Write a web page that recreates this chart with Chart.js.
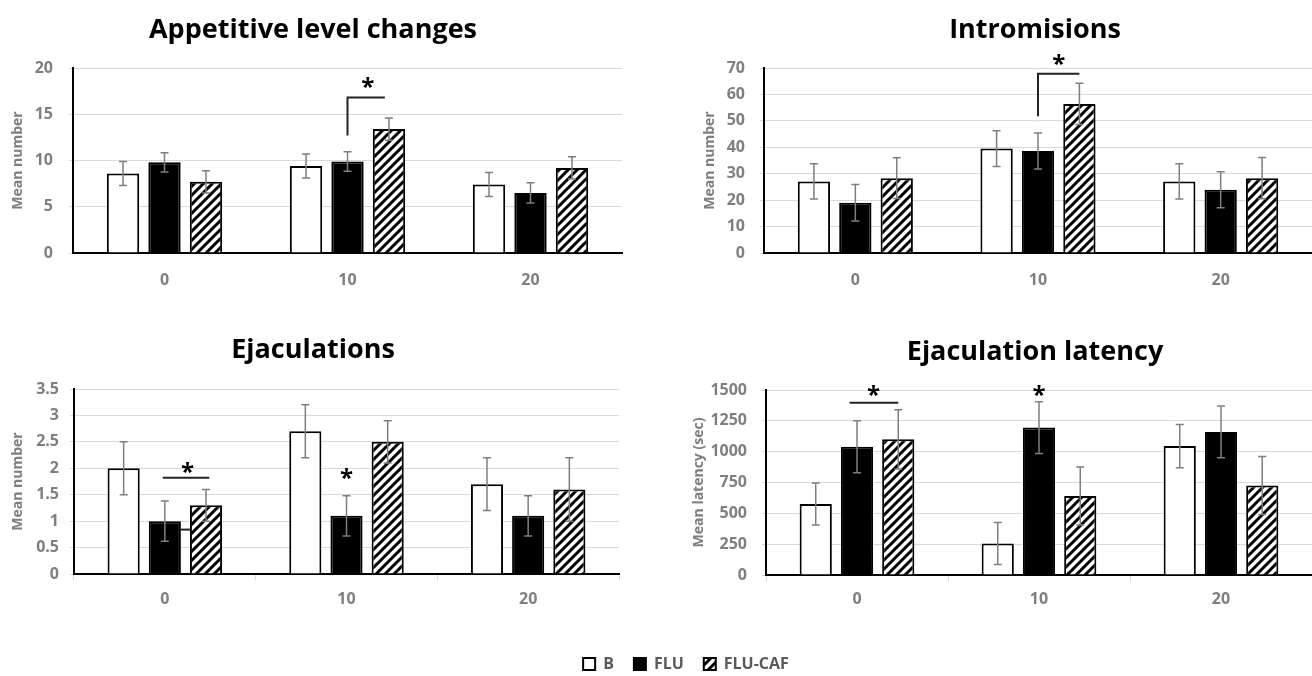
<!DOCTYPE html>
<html>
<head>
<meta charset="utf-8">
<script src="https://cdn.jsdelivr.net/npm/chart.js@4"></script>
<style>
  body { margin: 0; width: 1312px; height: 676px; background: #fff; position: relative; overflow: hidden; }
  canvas { position: absolute; }
</style>
</head>
<body>
<canvas id="appetitive" width="656" height="300" style="left:0;top:0"></canvas>
<canvas id="intromisions" width="656" height="300" style="left:656px;top:0"></canvas>
<canvas id="ejaculations" width="656" height="300" style="left:0;top:320px"></canvas>
<canvas id="latency" width="656" height="300" style="left:656px;top:320px"></canvas>
<canvas id="legend" width="320" height="120" style="left:526px;top:636px"></canvas>
<script>
// categories (dose) and groups
const doses = ['0', '10', '20'];
const groupNames = ['B', 'FLU', 'FLU-CAF'];

// Appetitive level changes
const appetitiveB = [8.6, 9.4, 7.4];
const appetitiveFLU = [9.8, 9.9, 6.5];
const appetitiveCAF = [7.7, 13.4, 9.2];
const appetitiveErrB = [1.3, 1.3, 1.3];
const appetitiveErrFLU = [1.05, 1.05, 1.1];
const appetitiveErrCAF = [1.2, 1.2, 1.2];
const appetitiveTicks = [0, 5, 10, 15, 20];

// Intromisions
const intromB = [27.1, 39.5, 27.1];
const intromFLU = [19.0, 38.6, 23.9];
const intromCAF = [28.3, 56.4, 28.3];
const intromErrB = [6.7, 6.8, 6.7];
const intromErrFLU = [6.9, 6.8, 6.8];
const intromErrCAF = [7.7, 7.8, 7.8];
const intromTicks = [0, 10, 20, 30, 40, 50, 60, 70];

// Ejaculations
const ejacB = [2.0, 2.7, 1.7];
const ejacFLU = [1.0, 1.1, 1.1];
const ejacCAF = [1.3, 2.5, 1.6];
const ejacErrB = [0.5, 0.5, 0.5];
const ejacErrFLU = [0.38, 0.38, 0.38];
const ejacErrCAF = [0.3, 0.4, 0.6];
const ejacTicks = [0, 0.5, 1, 1.5, 2, 2.5, 3, 3.5];

// Ejaculation latency (sec)
const latB = [575, 255, 1045];
const latFLU = [1040, 1195, 1160];
const latCAF = [1100, 640, 725];
const latErrB = [170, 170, 175];
const latErrFLU = [210, 210, 210];
const latErrCAF = [240, 235, 235];
const latTicks = [0, 250, 500, 750, 1000, 1250, 1500];

const FONT = '"Open Sans", Lato, sans-serif';
Chart.defaults.font.family = FONT;
Chart.defaults.font.weight = 'bold';
Chart.defaults.font.size = 16;
Chart.defaults.color = '#7f7f7f';

// diagonal hatch used for FLU-CAF
function makeHatch() {
    const c = document.createElement('canvas');
    c.width = 9; c.height = 9;
    const g = c.getContext('2d');
    g.fillStyle = '#fff';
    g.fillRect(0, 0, 9, 9);
    g.strokeStyle = '#000';
    g.lineWidth = 3;
    g.beginPath();
    g.moveTo(-1, 10); g.lineTo(10, -1);
    g.moveTo(-1, 1); g.lineTo(1, -1);
    g.moveTo(8, 10); g.lineTo(10, 8);
    g.stroke();
    return g.createPattern(c, 'repeat');
}
const hatch = makeHatch();

// error bars from dataset.err
const errorBars = {
    id: 'errorBars',
    afterDatasetsDraw(chart) {
        const { ctx } = chart;
        const y = chart.scales.y;
        ctx.save();
        ctx.strokeStyle = '#7f7f7f';
        ctx.lineWidth = 1.5;
        chart.data.datasets.forEach((ds, i) => {
            if (!ds.err) return;
            chart.getDatasetMeta(i).data.forEach((bar, j) => {
                const top = y.getPixelForValue(ds.data[j] + ds.err[j]);
                const bot = y.getPixelForValue(ds.data[j] - ds.err[j]);
                ctx.beginPath();
                ctx.moveTo(bar.x, top); ctx.lineTo(bar.x, bot);
                ctx.moveTo(bar.x - 4, top); ctx.lineTo(bar.x + 4, top);
                ctx.moveTo(bar.x - 4, bot); ctx.lineTo(bar.x + 4, bot);
                ctx.stroke();
            });
        });
        ctx.restore();
    }
};

// x position between bars of one category (pos = dataset index, may be fractional)
function barX(chart, cat, pos) {
    const i0 = Math.min(Math.max(Math.floor(pos), 0), 1);
    const x0 = chart.getDatasetMeta(i0).data[cat].x;
    const x1 = chart.getDatasetMeta(i0 + 1).data[cat].x;
    return x0 + (x1 - x0) * (pos - i0);
}

// significance lines and asterisks
const sigMarks = {
    id: 'sigMarks',
    afterDraw(chart, args, opts) {
        const { ctx } = chart;
        const y = chart.scales.y;
        ctx.save();
        ctx.strokeStyle = '#222';
        ctx.lineWidth = 2;
        (opts.lines || []).forEach(line => {
            ctx.beginPath();
            line.forEach(([cat, pos, v], k) => {
                const px = barX(chart, cat, pos), py = y.getPixelForValue(v);
                if (k === 0) ctx.moveTo(px, py); else ctx.lineTo(px, py);
            });
            ctx.stroke();
        });
        // size the asterisk so it is about 12px wide
        ctx.font = 'bold 40px ' + FONT;
        let m = ctx.measureText('*');
        const w = (m.actualBoundingBoxRight + m.actualBoundingBoxLeft) || 20;
        const size = Math.round(40 * 12 / w);
        ctx.font = 'bold ' + size + 'px ' + FONT;
        m = ctx.measureText('*');
        const shift = (m.actualBoundingBoxAscent - m.actualBoundingBoxDescent) / 2;
        ctx.fillStyle = '#000';
        ctx.textAlign = 'center';
        ctx.textBaseline = 'alphabetic';
        (opts.stars || []).forEach(([cat, pos, v]) => {
            ctx.fillText('*', barX(chart, cat, pos), y.getPixelForValue(v) + shift);
        });
        ctx.restore();
    }
};

// panel heading
const panelTitle = {
    id: 'panelTitle',
    afterDraw(chart, args, opts) {
        const { ctx } = chart;
        ctx.save();
        ctx.fillStyle = '#000';
        ctx.font = 'bold 27px ' + FONT;
        ctx.textAlign = 'center';
        ctx.textBaseline = 'middle';
        ctx.fillText(opts.text, opts.x, opts.y);
        ctx.restore();
    }
};

function makePanel(id, p) {
    return new Chart(document.getElementById(id), {
        type: 'bar',
        data: {
            labels: doses,
            datasets: [
                { label: groupNames[0], data: p.b, err: p.errB, backgroundColor: '#fff' },
                { label: groupNames[1], data: p.flu, err: p.errFLU, backgroundColor: '#000' },
                { label: groupNames[2], data: p.caf, err: p.errCAF, backgroundColor: hatch }
            ].map(d => Object.assign(d, {
                borderColor: '#000', borderWidth: 2,
                categoryPercentage: 0.68, barPercentage: 0.78
            }))
        },
        options: {
            responsive: false,
            animation: false,
            events: [],
            layout: { padding: { top: p.top, right: p.right, left: 0, bottom: 0 } },
            plugins: {
                legend: { display: false },
                tooltip: { enabled: false },
                panelTitle: { text: p.title, x: p.titleX, y: p.titleY },
                sigMarks: { lines: p.lines, stars: p.stars }
            },
            scales: {
                x: {
                    grid: { display: p.xTicks, drawOnChartArea: false, tickLength: 6, color: '#d9d9d9' },
                    border: { display: true, color: '#000', width: 2 },
                    ticks: { padding: p.xPad, color: '#7f7f7f' },
                    afterFit(s) { s.height = p.xHeight; }
                },
                y: {
                    min: p.ticks[0],
                    max: p.ticks[p.ticks.length - 1],
                    afterBuildTicks(s) { s.ticks = p.ticks.map(v => ({ value: v })); },
                    grid: { color: '#d9d9d9', tickLength: 4 },
                    border: { display: true, color: '#000', width: 2 },
                    ticks: { padding: p.yPad, color: '#7f7f7f', callback: v => String(v) },
                    title: {
                        display: true, text: p.yTitle, color: '#7f7f7f',
                        font: { size: 14, weight: 'bold' },
                        padding: { top: p.yTitlePad, bottom: 0 }
                    },
                    afterFit(s) { s.width = p.yWidth; }
                }
            }
        },
        plugins: [errorBars, sigMarks, panelTitle]
    });
}

makePanel('appetitive', {
    title: 'Appetitive level changes', titleX: 313, titleY: 30,
    b: appetitiveB, flu: appetitiveFLU, caf: appetitiveCAF,
    errB: appetitiveErrB, errFLU: appetitiveErrFLU, errCAF: appetitiveErrCAF,
    ticks: appetitiveTicks, yTitle: 'Mean number',
    top: 68, right: 34, yWidth: 73, xHeight: 47, yPad: 16, xPad: 12, yTitlePad: 10, xTicks: false,
    lines: [[[1, 1, 12.7], [1, 1, 16.8], [1, 1.9, 16.8]]],
    stars: [[1, 1.49, 18.4]]
});

makePanel('intromisions', {
    title: 'Intromisions', titleX: 379, titleY: 30,
    b: intromB, flu: intromFLU, caf: intromCAF,
    errB: intromErrB, errFLU: intromErrFLU, errCAF: intromErrCAF,
    ticks: intromTicks, yTitle: 'Mean number',
    top: 68, right: 0, yWidth: 108, xHeight: 47, yPad: 15, xPad: 12, yTitlePad: 46, xTicks: false,
    lines: [[[1, 1, 51.7], [1, 1, 67.8], [1, 2, 67.8]]],
    stars: [[1, 1.5, 73.1]]
});

makePanel('ejaculations', {
    title: 'Ejaculations', titleX: 313, titleY: 30,
    b: ejacB, flu: ejacFLU, caf: ejacCAF,
    errB: ejacErrB, errFLU: ejacErrFLU, errCAF: ejacErrCAF,
    ticks: ejacTicks, yTitle: 'Mean number',
    top: 69, right: 37, yWidth: 74, xHeight: 46, yPad: 11, xPad: 10, yTitlePad: 10, xTicks: true,
    lines: [[[0, 0.95, 1.82], [0, 2.08, 1.82]], [[0, 1.39, 0.84], [0, 1.61, 0.84]]],
    stars: [[0, 1.55, 2.02], [1, 1, 1.9]]
});

makePanel('latency', {
    title: 'Ejaculation latency', titleX: 379, titleY: 32,
    b: latB, flu: latFLU, caf: latCAF,
    errB: latErrB, errFLU: latErrFLU, errCAF: latErrCAF,
    ticks: latTicks, yTitle: 'Mean latency (sec)',
    top: 70, right: 0, yWidth: 110, xHeight: 45, yPad: 15, xPad: 9, yTitlePad: 35, xTicks: true,
    lines: [[[0, 0.82, 1397], [0, 2, 1397]]],
    stars: [[0, 1.4, 1500], [1, 1, 1500]]
});

// shared legend
new Chart(document.getElementById('legend'), {
    type: 'bar',
    data: {
        labels: [''],
        datasets: [
            { label: groupNames[0], data: [null], backgroundColor: '#fff', borderColor: '#000', borderWidth: 2 },
            { label: groupNames[1], data: [null], backgroundColor: '#000', borderColor: '#000', borderWidth: 2 },
            { label: groupNames[2], data: [null], backgroundColor: hatch, borderColor: '#000', borderWidth: 2 }
        ]
    },
    options: {
        responsive: false,
        animation: false,
        events: [],
        scales: { x: { display: false }, y: { display: false } },
        plugins: {
            tooltip: { enabled: false },
            legend: {
                position: 'top',
                labels: { boxWidth: 12, boxHeight: 12, padding: 20, color: '#595959', font: { size: 16, weight: 'bold' } }
            }
        }
    }
});
</script>
</body>
</html>
